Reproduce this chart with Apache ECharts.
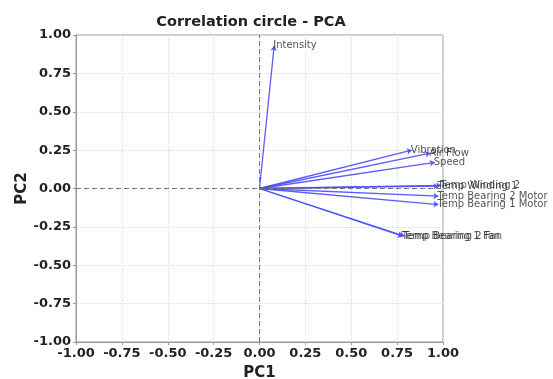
<!DOCTYPE html>
<html><head><meta charset="utf-8">
<script src="https://cdn.jsdelivr.net/npm/echarts@6/dist/echarts.min.js"></script>
<style>html,body{margin:0;padding:0;background:#fff}#c{width:553px;height:379px}</style>
</head><body><div id="c"></div>
<script>
const variables = ["Intensity","Vibration","Air Flow","Speed","Temp Winding 1","Temp Winding 2","Temp Bearing 2 Motor","Temp Bearing 1 Motor","Temp Bearing 1 Fan","Temp Bearing 2 Fan"];
const pc1 = [0.08, 0.83, 0.93, 0.955, 0.975, 0.99, 0.975, 0.975, 0.78, 0.79];
const pc2 = [0.93, 0.25, 0.23, 0.17, 0.015, 0.02, -0.05, -0.105, -0.31, -0.31];
const axisTicks = [-1,-0.75,-0.5,-0.25,0,0.25,0.5,0.75,1];

const chart = echarts.init(document.getElementById('c'));
const font = 'DejaVu Sans';
const arrowData = variables.map((v,i)=>({coords:[[0,0],[pc1[i],pc2[i]]]}));
const tipData = variables.map((v,i)=>({value:[pc1[i],pc2[i]], name:v}));
const axisCommon = {
  min:-1, max:1, interval:0.25,
  axisLine:{show:true, onZero:false, lineStyle:{color:'#999'}},
  axisTick:{show:true, length:3, lineStyle:{color:'#999'}},
  axisLabel:{fontFamily:font, fontWeight:'bold', fontSize:13, color:'#222', margin:5, formatter:v=>v.toFixed(2)},
  splitLine:{show:true, lineStyle:{color:'#ddd', type:'dotted'}},
  nameLocation:'middle',
  nameMoveOverlap:false,
  nameTextStyle:{fontFamily:font, fontWeight:'bold', fontSize:15, color:'#222'}
};
chart.setOption({
  animation:false,
  title:{text:'Correlation circle - PCA', left:246, textAlign:'center', top:10,
    textStyle:{fontFamily:font, fontWeight:'bold', fontSize:14.5, color:'#222'}},
  grid:{left:76, right:110, top:35, bottom:37, outerBoundsMode:'none', show:true, borderColor:'#999', borderWidth:1},
  xAxis:Object.assign({}, axisCommon, {name:'PC1', nameGap:24}),
  yAxis:Object.assign({}, axisCommon, {name:'PC2', nameGap:46}),
  series:[
    {type:'lines', coordinateSystem:'cartesian2d', data:arrowData,
     symbol:['none','arrow'], symbolSize:5,
     lineStyle:{color:'#4a4aff', width:1.3, opacity:0.9},
     markLine:{silent:true, symbol:'none', label:{show:false},
       lineStyle:{color:'#777', type:[5,3], width:1},
       data:[{xAxis:0},{yAxis:0}]},
     z:3},
    {type:'scatter', data:tipData, symbolSize:0,
     label:{show:true, position:'right', distance:-1, formatter:p=>p.name,
       fontFamily:font, fontSize:10, color:'#2a2a2a'}, z:4}
  ]
});
</script></body></html>
